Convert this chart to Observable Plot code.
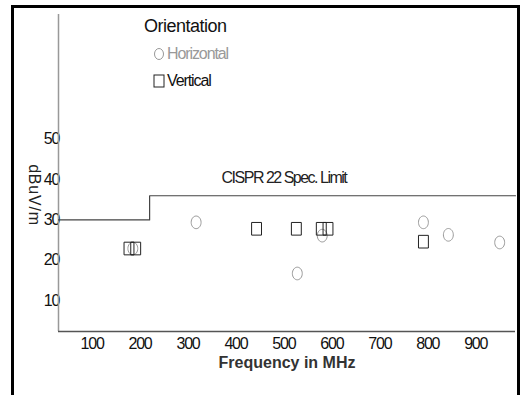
<!DOCTYPE html>
<html>
<head>
<meta charset="utf-8">
<script src="https://cdn.jsdelivr.net/npm/d3@7"></script>
<script src="https://cdn.jsdelivr.net/npm/@observablehq/plot@0.6"></script>
<style>
  html, body { margin: 0; padding: 0; background: #fff; }
  #wrap { position: relative; width: 523px; height: 395px; overflow: hidden; font-family: "Liberation Sans", Arial, sans-serif; }
  #frame { position: absolute; left: 11px; top: 5px; width: 503px; height: 420px; border: 3px solid #000; border-bottom: none; pointer-events: none; }
  #legend { position: absolute; left: 144px; top: 15px; }
  #legend .title { font-size: 18px; letter-spacing: -0.5px; color: #111; line-height: 22px; margin-bottom: 3px; }
  #legend .item { font-size: 16px; letter-spacing: -1.1px; height: 27px; line-height: 27px; display: flex; align-items: center; }
  #legend svg { margin-right: 2px; }
  .speclabel text { letter-spacing: -1.5px; }
  .ylab text { letter-spacing: 0.8px; }
</style>
</head>
<body>
<div id="wrap">
  <div id="chart"></div>
  <div id="legend"></div>
  <div id="frame"></div>
</div>
<script>
// ---- data ----
const horizFreq  = [185, 317, 528, 580, 791, 843, 950];
const horizLevel = [22.9, 29.4, 16.7, 26.1, 29.4, 26.3, 24.4];
const vertFreq   = [177, 191, 443, 526, 578, 592, 791];
const vertLevel  = [22.9, 22.9, 27.8, 27.8, 27.8, 27.8, 24.6];
const limitFreq  = [30, 220, 983];
const limitLevel = [30, 36, 36];
const limitLabel = ["CISPR 22 Spec. Limit"];
const limitLabelFreq = [370];
const limitLabelLevel = [40.5];
const xTicks = [100, 200, 300, 400, 500, 600, 700, 800, 900];
const yTicks = [10, 20, 30, 40, 50];
const xLabel = "Frequency in MHz";
const yLabel = "dBuV/m";
const legendTitle = "Orientation";
const seriesNames = ["Horizontal", "Vertical"];
const seriesColors = ["#999999", "#222222"];

const horiz = horizFreq.map((f, i) => ({freq: f, level: horizLevel[i]}));
const vert = vertFreq.map((f, i) => ({freq: f, level: vertLevel[i]}));
const limit = limitFreq.map((f, i) => ({freq: f, level: limitLevel[i]}));

// custom symbols: slightly tall ellipse and rectangle
const K = 0.5523;
const ellipseSym = {draw(ctx, size) {
  const r = Math.sqrt(size / Math.PI), rx = r * 0.9, ry = r * 1.15;
  ctx.moveTo(rx, 0);
  ctx.bezierCurveTo(rx, K * ry, K * rx, ry, 0, ry);
  ctx.bezierCurveTo(-K * rx, ry, -rx, K * ry, -rx, 0);
  ctx.bezierCurveTo(-rx, -K * ry, -K * rx, -ry, 0, -ry);
  ctx.bezierCurveTo(K * rx, -ry, rx, -K * ry, rx, 0);
  ctx.closePath();
}};
const rectSym = {draw(ctx, size) {
  const r = Math.sqrt(size / Math.PI), w = r * 0.9, h = r * 1.15;
  ctx.moveTo(-w, -h); ctx.lineTo(w, -h); ctx.lineTo(w, h); ctx.lineTo(-w, h); ctx.closePath();
}};

const chart = Plot.plot({
  width: 523,
  height: 395,
  marginLeft: 58,
  marginRight: 8,
  marginTop: 14,
  marginBottom: 64,
  style: {fontFamily: "Liberation Sans, Arial, sans-serif", fontSize: "16px", background: "transparent"},
  x: {domain: [30, 983]},
  y: {domain: [2.3, 81]},
  marks: [
    Plot.axisX({ticks: xTicks, tickSize: 0, tickPadding: 6, label: null, fontSize: 16, color: "#111", tickFormat: d => String(d)}),
    Plot.axisY({ticks: yTicks, tickSize: 0, tickPadding: -1, label: null, fontSize: 16, color: "#111"}),
    Plot.ruleX([30], {stroke: "#999", strokeWidth: 1.5}),
    Plot.ruleY([2.3], {stroke: "#555", strokeWidth: 1.5}),
    Plot.line(limit, {x: "freq", y: "level", curve: "step-after", stroke: "#444", strokeWidth: 1.2}),
    Plot.text(limitLabel, {x: limitLabelFreq, y: limitLabelLevel, text: d => d, textAnchor: "start", fontSize: 16, fill: "#222", className: "speclabel"}),
    Plot.dot(horiz, {x: "freq", y: "level", symbol: ellipseSym, r: 5.5, stroke: seriesColors[0], strokeWidth: 1, fill: "none"}),
    Plot.dot(vert, {x: "freq", y: "level", symbol: rectSym, r: 5.5, stroke: seriesColors[1], strokeWidth: 1, fill: "none"}),
    Plot.text([xLabel], {frameAnchor: "bottom", dy: 36, text: d => d, fontSize: 16, fontWeight: "bold", fill: "#333"}),
    Plot.text([yLabel], {frameAnchor: "left", textAnchor: "middle", dx: -24, dy: 22, rotate: 90, text: d => d, fontSize: 16, fill: "#222", className: "ylab"})
  ]
});
// letter-spacing on ticks
chart.querySelectorAll("g[aria-label='x-axis tick label'] text").forEach(t => t.style.letterSpacing = "-1.2px");
chart.querySelectorAll("g[aria-label='y-axis tick label'] text").forEach(t => t.style.letterSpacing = "-1px");
chart.querySelectorAll(".speclabel text").forEach(t => t.style.letterSpacing = "-1.5px");
chart.querySelectorAll(".ylab text").forEach(t => t.style.letterSpacing = "0.8px");
document.getElementById("chart").appendChild(chart);

// legend
const lg = document.getElementById("legend");
const title = document.createElement("div");
title.className = "title";
title.textContent = legendTitle;
lg.appendChild(title);
seriesNames.forEach((name, i) => {
  const row = document.createElement("div");
  row.className = "item";
  row.style.paddingLeft = "9px";
  row.style.color = i === 0 ? "#999" : "#111";
  const sw = d3.create("svg").attr("width", 12).attr("height", 14);
  if (i === 0) sw.append("ellipse").attr("cx", 6).attr("cy", 7).attr("rx", 4.5).attr("ry", 5.5).attr("fill", "none").attr("stroke", seriesColors[0]);
  else sw.append("rect").attr("x", 1).attr("y", 1).attr("width", 10).attr("height", 12).attr("fill", "none").attr("stroke", seriesColors[1]);
  row.appendChild(sw.node());
  const s = document.createElement("span");
  s.textContent = name;
  row.appendChild(s);
  lg.appendChild(row);
});
</script>
</body>
</html>
